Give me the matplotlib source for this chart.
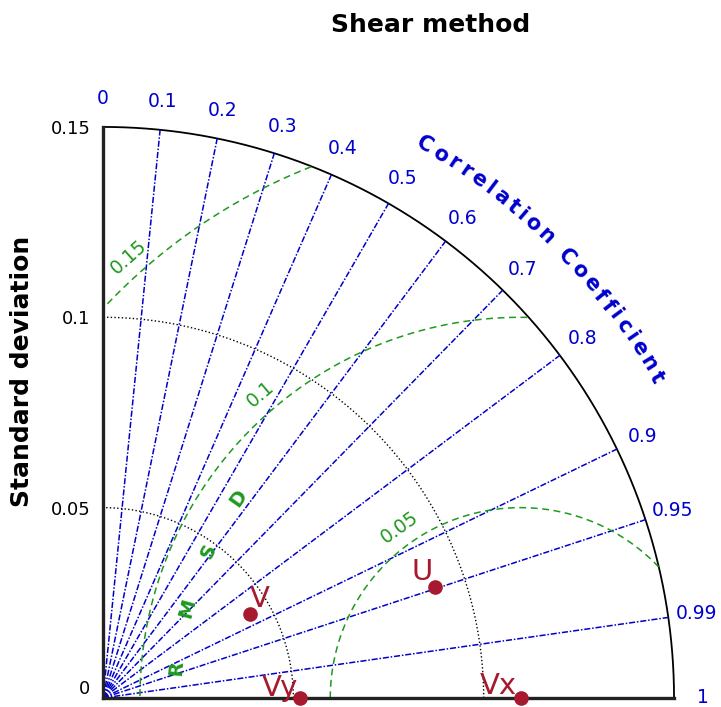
import numpy as np
import matplotlib.pyplot as plt
from matplotlib.textpath import TextToPath
from matplotlib.font_manager import FontProperties

# data
names = ['V', 'U', 'Vy', 'Vx']
stds = [0.0445, 0.0920, 0.0517, 0.1097]
corrs = [0.868, 0.948, 1.0, 1.0]
ref_std = 0.1097

corr_ticks = [0.1, 0.2, 0.3, 0.4, 0.5, 0.6, 0.7, 0.8, 0.9, 0.95, 0.99]
corr_labels = ['0', '0.1', '0.2', '0.3', '0.4', '0.5', '0.6', '0.7', '0.8',
               '0.9', '0.95', '0.99', '1']
std_ticks = [0, 0.05, 0.1, 0.15]
std_labels = ['0', '0.05', '0.1', '0.15']
std_arcs = [0.05, 0.1]
rms_levels = [0.05, 0.1, 0.15]
rms_labels = ['0.05', '0.1', '0.15']

# styling / placement
smax = 0.15
blue = '#0000cd'
green = '#1f991f'
red = '#a6192e'
rms_label_ang = [125.4, 130.6, 131.6]
# label offsets in points, alignment
lab_style = {'V': (0, 5, 'left'), 'U': (-1.5, 5, 'right'),
             'Vy': (-1, 1.5, 'right'), 'Vx': (-3, 3, 'right')}

fig = plt.figure(figsize=(7.21, 7.07), dpi=100)
ax = fig.add_axes([103 / 721, 9 / 707, 0.8448, 0.8616])
ax.set_xlim(0, 0.16)
ax.set_ylim(0, 0.16)
ax.set_aspect('equal')
for s in ['top', 'right']:
    ax.spines[s].set_visible(False)
for s in ['left', 'bottom']:
    ax.spines[s].set_bounds(0, smax)
    ax.spines[s].set_linewidth(2.4)
    ax.spines[s].set_color('#222222')
ax.set_xticks([])
ax.set_yticks(std_ticks)
ax.set_yticklabels(std_labels, fontsize=13)
ax.tick_params(axis='y', length=0, pad=9)
ax.get_yticklabels()[0].set_va('bottom')

th = np.linspace(0, np.pi / 2, 400)
# outer arc
ax.plot(smax * np.cos(th), smax * np.sin(th), color='black', lw=1.3)
# std arcs
for r in std_arcs:
    ax.plot(r * np.cos(th), r * np.sin(th), color='black', ls=':', lw=1.0)

# correlation lines
for c in corr_ticks:
    a = np.arccos(c)
    ax.plot([0, smax * np.cos(a)], [0, smax * np.sin(a)],
            color=blue, lw=1.1, dashes=(4, 1.2, 1, 1.2))

# correlation tick labels
for c, lab in zip([0] + corr_ticks + [1], corr_labels):
    a = np.arccos(c)
    ax.text(1.05 * smax * np.cos(a), 1.05 * smax * np.sin(a), lab,
            color=blue, fontsize=13.5, ha='center', va='center')

# RMSD contours
phi = np.linspace(0, np.pi, 800)
for r, lab, ang in zip(rms_levels, rms_labels, rms_label_ang):
    x = ref_std + r * np.cos(phi)
    y = r * np.sin(phi)
    bad = (np.hypot(x, y) > smax) | (x < 0)
    x = np.where(bad, np.nan, x)
    y = np.where(bad, np.nan, y)
    ax.plot(x, y, color=green, lw=1.1, dashes=(4.5, 3))
    rr = r + 0.005
    a = np.radians(ang)
    ax.text(ref_std + rr * np.cos(a), rr * np.sin(a), lab, color=green,
            fontsize=13.5, rotation=ang - 90, rotation_mode='anchor',
            ha='center', va='center')

# "RMSD" along an arc around the reference point
for ch, ang in zip('RMSD', np.linspace(175, 144.7, 4)):
    a = np.radians(ang)
    ax.text(ref_std + 0.0907 * np.cos(a), 0.0907 * np.sin(a), ch,
            color=green, fontsize=14, fontweight='bold', rotation=ang - 90,
            rotation_mode='anchor', ha='center', va='center')

# curved "Correlation Coefficient"
title_c = 'Correlation Coefficient'
fs_c = 15
prop = FontProperties(family='DejaVu Sans', weight='bold', size=fs_c)
t2p = TextToPath()
base = t2p.get_text_width_height_descent('||', prop, ismath=False)[0]
widths = [t2p.get_text_width_height_descent('|' + ch + '|', prop, ismath=False)[0] - base
          for ch in title_c]
pt2data = (100 / 72) / (0.8448 * 721 / 0.16)
widths = np.array(widths) * pt2data
r_c = 0.1681
a0, a1 = np.radians(59.8), np.radians(30.1)
span = r_c * (a0 - a1)
inner = np.sum(widths) - widths[0] / 2 - widths[-1] / 2
gap = (span - inner) / (len(title_c) - 1)
pos = 0.0
for i, ch in enumerate(title_c):
    if i > 0:
        pos += widths[i - 1] / 2 + gap + widths[i] / 2
    a = a0 - pos / r_c
    if ch != ' ':
        ax.text(r_c * np.cos(a), r_c * np.sin(a), ch, color=blue,
                fontproperties=prop, rotation=np.degrees(a) - 90,
                rotation_mode='anchor', ha='center', va='center')

# data points
for n, s, c in zip(names, stds, corrs):
    a = np.arccos(c)
    x, y = s * np.cos(a), s * np.sin(a)
    ax.plot(x, y, 'o', color=red, ms=9.5, clip_on=False, zorder=5)
    dx, dy, ha = lab_style[n]
    ax.annotate(n, (x, y), xytext=(dx, dy), textcoords='offset points',
                ha=ha, va='baseline', color=red, fontsize=21, zorder=6,
                annotation_clip=False)

fig.text(431 / 721, 1 - 25 / 707, 'Shear method', fontsize=18,
         fontweight='bold', ha='center', va='center')
fig.text(22 / 721, 1 - 371 / 707, 'Standard deviation', fontsize=18,
         fontweight='bold', ha='center', va='center', rotation=90)

fig.savefig('out.png', dpi=100)
